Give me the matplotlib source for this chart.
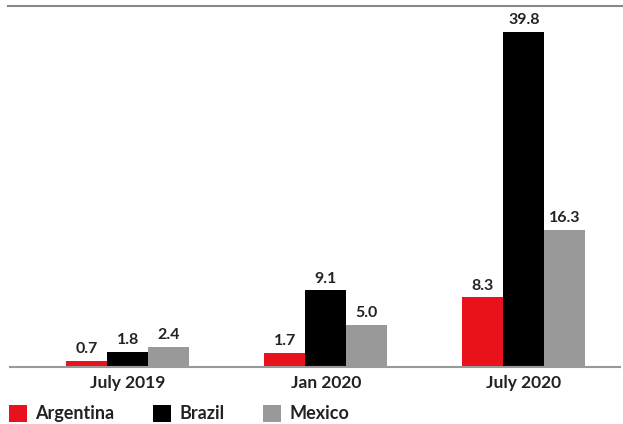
import matplotlib.pyplot as plt
import numpy as np

periods = ["July 2019", "Jan 2020", "July 2020"]
countries = ["Argentina", "Brazil", "Mexico"]
argentina = [0.7, 1.7, 8.3]
brazil = [1.8, 9.1, 39.8]
mexico = [2.4, 5.0, 16.3]
colors = ["#e8111c", "#000000", "#999999"]

plt.rcParams["font.family"] = ["Lato", "DejaVu Sans"]

fig = plt.figure(figsize=(6.23, 4.24), dpi=100)
W, H = 623, 424
ax = fig.add_axes([10 / W, 1 - 367 / H, 610 / W, 361 / H])

x = np.arange(len(periods))
width = 0.207
series = [argentina, brazil, mexico]
for i, (vals, col, name) in enumerate(zip(series, colors, countries)):
    pos = x + (i - 1) * width
    bars = ax.bar(pos, vals, width, color=col, label=name)
    for b, v in zip(bars, vals):
        ax.text(b.get_x() + b.get_width() / 2, v + 0.55, f"{v:.1f}",
                ha="center", va="bottom", fontsize=11.5, fontweight="bold",
                color="#222222")

ax.set_xlim(-0.595, 2.485)
ax.set_ylim(0, 42.9)
for s in ["left", "right", "top"]:
    ax.spines[s].set_visible(False)
ax.spines["bottom"].set_color("#999999")
ax.spines["bottom"].set_linewidth(1.5)
ax.set_yticks([])
ax.set_xticks(x)
ax.set_xticklabels(periods, fontsize=12.5, fontweight="bold", color="#222222")
ax.tick_params(axis="x", length=0, pad=6)

# top rule
fig.add_artist(plt.Line2D([8 / W, 1], [1 - 6 / H, 1 - 6 / H], color="#888888", lw=1.5))

fig.legend(loc="lower left", bbox_to_anchor=(-0.006, -0.026), ncol=3, frameon=False,
           handlelength=1.0, handleheight=1.1, handletextpad=0.45, columnspacing=2.15,
           prop={"size": 13, "weight": "bold"}, labelcolor="#222222",
           borderaxespad=0.3)

fig.savefig("out.png", dpi=100)
